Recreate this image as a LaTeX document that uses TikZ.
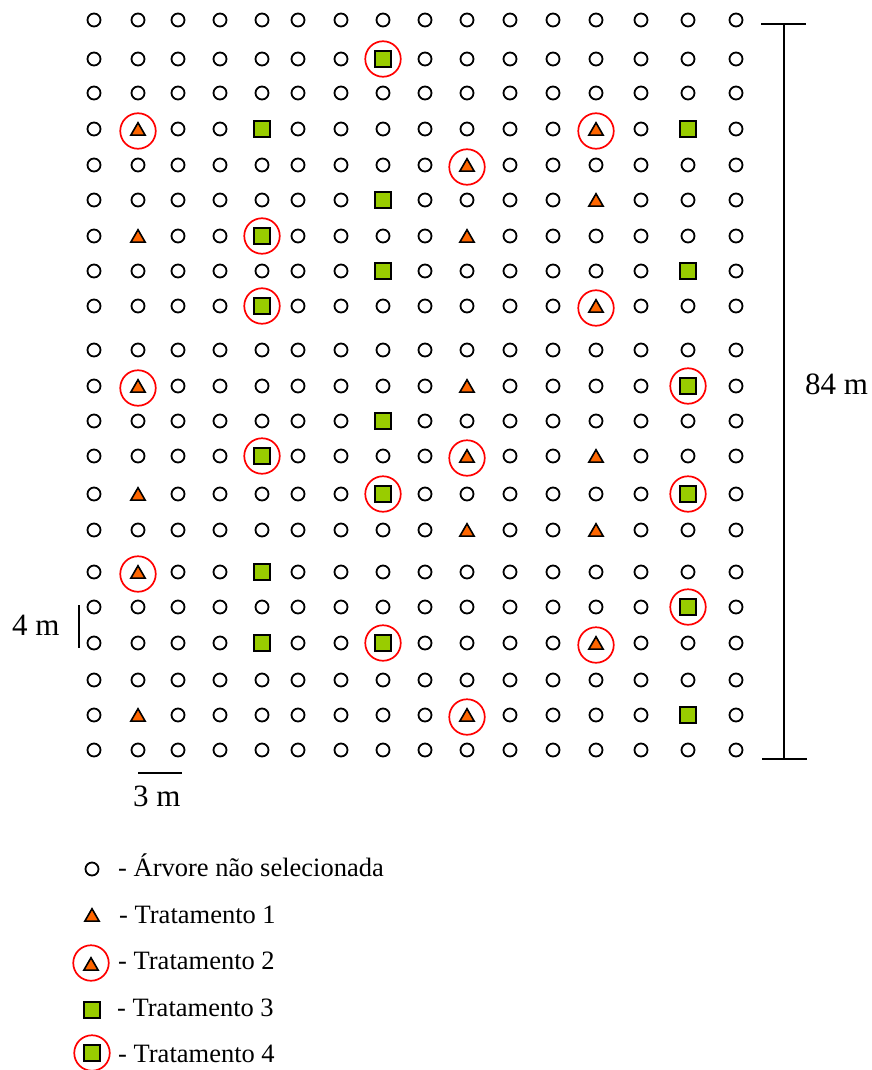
\documentclass[tikz,border=0pt]{standalone}
\usepackage{fontspec}
\setmainfont{Liberation Serif}
\usetikzlibrary{shapes.geometric}
\definecolor{triorange}{RGB}{255,102,0}
\definecolor{sqgreen}{RGB}{153,204,0}
\definecolor{ringred}{RGB}{255,0,0}
\tikzset{
 tree/.style={circle,draw,line width=1.8pt,minimum size=13pt,inner sep=0pt},
 tri/.style={regular polygon,regular polygon sides=3,draw,fill=triorange,line width=1.6pt,minimum size=16.5pt,inner sep=0pt,yshift=-2pt},
 sq/.style={rectangle,draw,fill=sqgreen,line width=1.8pt,minimum size=16pt,inner sep=0pt},
 ring/.style={circle,draw=ringred,line width=1.7pt,minimum size=35.5pt,inner sep=0pt},
 lbl/.style={font=\fontsize{31}{36}\selectfont,inner sep=0pt,anchor=base west},
 leg/.style={font=\fontsize{26.5}{31}\selectfont,inner sep=0pt,anchor=base west},
 bar/.style={line width=1.6pt}
}
\begin{document}
\begin{tikzpicture}[x=1pt,y=-1pt]
\useasboundingbox (0,0) rectangle (871,1070);
% kinds of special positions
\foreach \r/\c in {4/2,4/13,5/10,6/13,7/2,7/10,9/13,11/2,11/10,13/10,13/13,14/2,15/10,15/13,16/2,18/13,20/2,20/10}
  {\expandafter\xdef\csname k-\r-\c\endcsname{tri}}
\foreach \r/\c in {2/8,4/5,4/15,6/8,7/5,8/8,8/15,9/5,11/15,12/8,13/5,14/8,14/15,16/5,17/15,18/5,18/8,20/15}
  {\expandafter\xdef\csname k-\r-\c\endcsname{sq}}
% grid of trees
\foreach \yy [count=\r] in {20,59,93,129,165,200,236,271,306,350,386,421,456,494,530,572,607,643,680,715,750}{
  \foreach \xx [count=\c] in {94,138,178,220,262,298,341,383,425,467,510,553,596,641,688,736}{
    \ifcsname k-\r-\c\endcsname
      \edef\kk{\csname k-\r-\c\endcsname}%
    \else
      \def\kk{tree}%
    \fi
    \edef\tmp{\noexpand\node[\kk] (m-\r-\c) at (\xx,\yy) {};}%
    \tmp
  }
}
% rings
\foreach \r/\c in {2/8,4/2,4/13,5/10,7/5,9/5,9/13,11/2,11/15,13/5,13/10,14/8,14/15,16/2,17/15,18/8,18/13,20/10}
  {\node[ring] (ring-\r-\c) at (m-\r-\c) {};}
% scale bars
\coordinate (v1) at (784,24);
\coordinate (v2) at (784,759);
\coordinate (t1a) at (761,24);
\coordinate (t1b) at (806,24);
\coordinate (t2a) at (762,759);
\coordinate (t2b) at (807,759);
\draw[bar] (v1) -- (v2);
\draw[bar] (t1a) -- (t1b);
\draw[bar] (t2a) -- (t2b);
\node[lbl] (l84) at (805,394) {84 m};
\coordinate (f1) at (79,605);
\coordinate (f2) at (79,648);
\draw[bar] (f1) -- (f2);
\node[lbl] (l4) at (12,635) {4 m};
\coordinate (h1) at (138,773);
\coordinate (h2) at (182,773);
\draw[bar] (h1) -- (h2);
\node[lbl] (l3) at (133,806) {3 m};
% legend
\node[tree] (g1) at (92,869) {};
\node[tri] (g2) at (92,915) {};
\node[tri] (g3) at (91,964) {};
\node[ring] (g3r) at (91,963) {};
\node[sq] (g4) at (92,1010) {};
\node[sq] (g5) at (92,1053) {};
\node[ring] (g5r) at (92,1053) {};
\node[leg] (e1) at (118,876) {- Árvore não selecionada};
\node[leg] (e2) at (119,923) {- Tratamento 1};
\node[leg] (e3) at (118,969) {- Tratamento 2};
\node[leg] (e4) at (117,1016) {- Tratamento 3};
\node[leg] (e5) at (118,1062) {- Tratamento 4};
\end{tikzpicture}
\end{document}
